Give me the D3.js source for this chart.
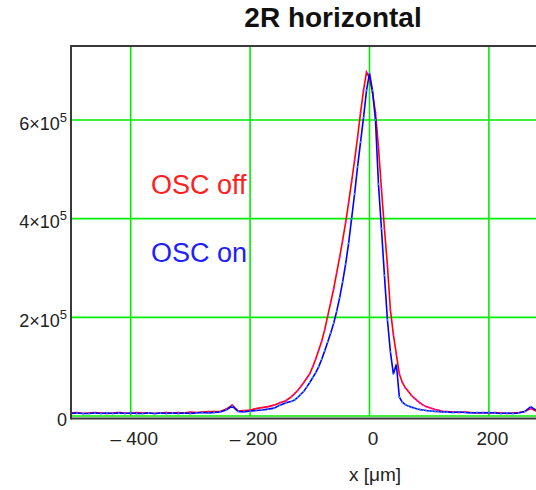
<!DOCTYPE html>
<html>
<head>
<meta charset="utf-8">
<script src="https://cdn.jsdelivr.net/npm/d3@7"></script>
<style>
  body { margin: 0; background: #fff; }
  svg { display: block; font-family: Arial, "Liberation Sans", sans-serif; }
</style>
</head>
<body>
<div id="chart"></div>
<script>
// Positions along x, in µm
const xTail1 = d3.range(-500, -129, 10);
const xCenter = d3.range(-125, 126, 5);
const xTail2 = d3.range(130, 301, 10);
const xPos = xTail1.concat(xCenter, xTail2);

// Intensities in thousands
const oscOff = [
  // -500 .. -130
  6, 7, 5, 6, 7, 6, 5, 6, 7, 6, 5, 7, 6, 6, 5, 6, 7, 6, 7, 6, 8, 7, 8, 9, 9,
  9, 14, 22, 10, 11, 12, 15, 17, 19, 22, 27, 31, 40,
  // -125 .. 125
  46, 52, 60, 68, 77, 86, 100, 116, 134, 152, 175, 203, 230, 258, 290, 322, 356,
  392, 432, 475, 518, 565, 615, 660, 697, 685, 655, 615, 545, 460, 380, 305, 215,
  165, 125, 85, 68, 57, 50, 42, 36, 31, 26, 22, 19, 17, 15, 13, 12, 10, 9,
  // 130 .. 300
  9, 8, 7, 8, 7, 6, 7, 6, 7, 6, 5, 6, 7, 9, 15, 10, 8, 7
];

const oscOn = [
  // -500 .. -130
  5, 6, 5, 5, 6, 5, 6, 5, 6, 5, 6, 5, 5, 6, 5, 6, 5, 6, 5, 6, 5, 6, 7, 6, 7,
  8, 12, 20, 9, 8, 10, 11, 12, 14, 16, 22, 27, 30,
  // -125 .. 125
  33, 38, 44, 50, 59, 68, 78, 88, 100, 115, 132, 150, 168, 188, 212, 240, 272,
  308, 350, 400, 450, 505, 555, 605, 660, 695, 660, 600, 470, 380, 285, 195, 130,
  85, 105, 38, 28, 23, 20, 18, 16, 14, 13, 12, 11, 10, 10, 9, 9, 8, 8,
  // 130 .. 300
  8, 7, 8, 7, 6, 7, 6, 7, 6, 5, 6, 5, 6, 9, 19, 11, 8, 7
];

const xTicks = [-400, -200, 0, 200];
const yTicks = [0, 2e5, 4e5, 6e5];

const width = 536;
const height = 490;
const margin = { top: 46, right: -132, bottom: 74, left: 71 };

const svg = d3.select('#chart').append('svg')
  .attr('width', width)
  .attr('height', height);

const x = d3.scaleLinear()
  .domain([-500, 500])
  .range([margin.left, width - margin.right]);

const y = d3.scaleLinear()
  .domain([0, 7.5e5])
  .range([height - margin.bottom, margin.top]);

// Title
svg.append('text')
  .attr('x', 333)
  .attr('y', 27)
  .attr('text-anchor', 'middle')
  .attr('font-size', 28)
  .attr('font-weight', 700)
  .attr('fill', '#111')
  .text('2R horizontal');

// Grid
svg.append('g')
  .selectAll('line')
  .data(xTicks)
  .join('line')
  .attr('x1', d => x(d))
  .attr('x2', d => x(d))
  .attr('y1', margin.top)
  .attr('y2', y(0))
  .attr('stroke', '#00ee00')
  .attr('stroke-width', 1.6);

svg.append('g')
  .selectAll('line')
  .data(yTicks)
  .join('line')
  .attr('x1', margin.left)
  .attr('x2', width)
  .attr('y1', d => y(d))
  .attr('y2', d => y(d))
  .attr('stroke', '#00ee00')
  .attr('stroke-width', 1.6);

// Series
const seriesList = [
  { values: oscOff, color: '#ff0000', dot: '#ff00ff' },
  { values: oscOn, color: '#0000ff', dot: '#3399ff' }
];

const line = d3.line()
  .x(d => x(d[0]))
  .y(d => y(d[1] * 1000));

seriesList.forEach(s => {
  const pts = xPos.map((v, i) => [v, s.values[i]]);
  svg.append('path')
    .datum(pts)
    .attr('d', line)
    .attr('fill', 'none')
    .attr('stroke', s.color)
    .attr('stroke-width', 1.6);

  svg.append('g')
    .selectAll('circle')
    .data(pts)
    .join('circle')
    .attr('cx', d => x(d[0]))
    .attr('cy', d => y(d[1] * 1000))
    .attr('r', 0.9)
    .attr('fill', s.dot);
});

// Frame
svg.append('line')
  .attr('x1', margin.left).attr('x2', width)
  .attr('y1', margin.top).attr('y2', margin.top)
  .attr('stroke', '#3a3a3a').attr('stroke-width', 2);
svg.append('line')
  .attr('x1', margin.left).attr('x2', width)
  .attr('y1', y(0) + 2.5).attr('y2', y(0) + 2.5)
  .attr('stroke', '#3a3a3a').attr('stroke-width', 2);
svg.append('line')
  .attr('x1', margin.left).attr('x2', margin.left)
  .attr('y1', margin.top - 1).attr('y2', y(0) + 3.5)
  .attr('stroke', '#3a3a3a').attr('stroke-width', 2);

// Y tick labels
const yLab = svg.append('g')
  .selectAll('text')
  .data(yTicks)
  .join('text')
  .attr('x', margin.left - 4)
  .attr('y', d => y(d) + 9.5)
  .attr('text-anchor', 'end')
  .attr('font-size', 18)
  .attr('fill', '#222');

yLab.each(function (d) {
  const t = d3.select(this);
  if (d === 0) { t.text('0'); return; }
  t.append('tspan').text(`${d / 1e5}\u00d710`);
  t.append('tspan').attr('dy', -8).attr('font-size', 13).text('5');
});

// X tick labels
svg.append('g')
  .selectAll('text')
  .data(xTicks)
  .join('text')
  .attr('x', d => x(d) + 3.5)
  .attr('y', 445)
  .attr('text-anchor', 'middle')
  .attr('font-size', 19)
  .attr('fill', '#222')
  .text(d => d < 0 ? `\u2013 ${-d}` : `${d}`);

// Axis label
svg.append('text')
  .attr('x', 375)
  .attr('y', 481)
  .attr('text-anchor', 'middle')
  .attr('font-size', 19)
  .attr('fill', '#222')
  .text('x [\u03bcm]');

// Legend labels
svg.append('text')
  .attr('x', 151).attr('y', 194)
  .attr('font-size', 27)
  .attr('fill', '#ff2020')
  .text('OSC off');
svg.append('text')
  .attr('x', 151).attr('y', 262)
  .attr('font-size', 27)
  .attr('fill', '#2020ff')
  .text('OSC on');
</script>
</body>
</html>
